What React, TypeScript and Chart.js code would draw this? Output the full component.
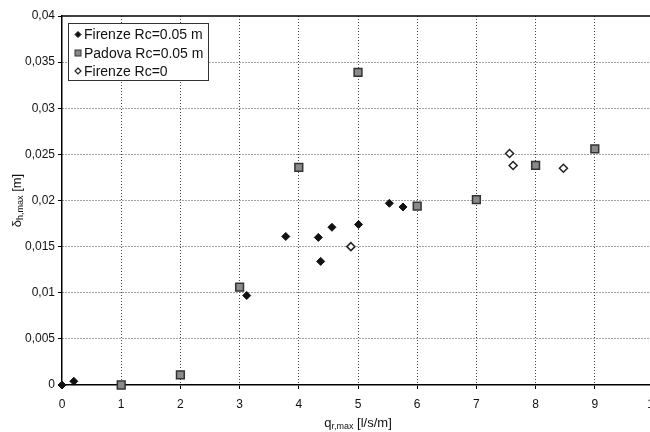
import React, { useEffect, useRef } from "react";
import { Chart, registerables } from "chart.js";

Chart.register(...registerables);

const firenzeX = [0, 0.2, 3.12, 3.78, 4.33, 4.37, 4.56, 5.01, 5.53, 5.76];
const firenzeY = [0, 0.0004, 0.0097, 0.0161, 0.016, 0.0134, 0.0171, 0.0174, 0.0197, 0.0193];
const padovaX = [1, 2, 3, 4, 5, 6, 7, 8, 9];
const padovaY = [0, 0.0011, 0.0106, 0.0236, 0.0339, 0.0194, 0.0201, 0.0238, 0.0256];
const firenze0X = [4.88, 7.56, 7.62, 8.47];
const firenze0Y = [0.015, 0.0251, 0.0238, 0.0235];
const seriesNames = ["Firenze Rc=0.05 m", "Padova Rc=0.05 m", "Firenze Rc=0"];

const FONT = "'Liberation Sans', Arial, sans-serif";

function pts(xs: number[], ys: number[]) {
  return xs.map((x, i) => ({ x, y: ys[i] }));
}

function drawDiamond(ctx: CanvasRenderingContext2D, x: number, y: number, r: number, fill: string, stroke: string, lw: number) {
  ctx.beginPath();
  ctx.moveTo(x, y - r);
  ctx.lineTo(x + r, y);
  ctx.lineTo(x, y + r);
  ctx.lineTo(x - r, y);
  ctx.closePath();
  ctx.fillStyle = fill;
  ctx.fill();
  ctx.lineWidth = lw;
  ctx.strokeStyle = stroke;
  ctx.stroke();
}

const decorPlugin = {
  id: "decor",
  afterDraw(chart: any) {
    const ctx: CanvasRenderingContext2D = chart.ctx;
    const a = chart.chartArea;
    ctx.save();
    // top border
    ctx.strokeStyle = "#000";
    ctx.lineWidth = 1.5;
    ctx.beginPath();
    ctx.moveTo(a.left, a.top);
    ctx.lineTo(a.right, a.top);
    ctx.stroke();

    // x title with subscript
    ctx.fillStyle = "#111";
    ctx.textBaseline = "alphabetic";
    const big = `13px ${FONT}`;
    const small = `9px ${FONT}`;
    const xParts: [string, string, number][] = [["q", big, 0], ["r,max", small, 2], [" [l/s/m]", big, 0]];
    let total = 0;
    for (const [t, f] of xParts) { ctx.font = f; total += ctx.measureText(t).width; }
    let cx = (a.left + a.right) / 2 - total / 2;
    const by = 427;
    for (const [t, f, dy] of xParts) {
      ctx.font = f;
      ctx.fillText(t, cx, by + dy);
      cx += ctx.measureText(t).width;
    }

    // y title
    ctx.save();
    ctx.translate(21, (a.top + a.bottom) / 2);
    ctx.rotate(-Math.PI / 2);
    const yParts: [string, string, number][] = [["δ", big, 0], ["h,max", small, 2], [" [m]", big, 0]];
    total = 0;
    for (const [t, f] of yParts) { ctx.font = f; total += ctx.measureText(t).width; }
    cx = -total / 2;
    for (const [t, f, dy] of yParts) {
      ctx.font = f;
      ctx.fillText(t, cx, dy);
      cx += ctx.measureText(t).width;
    }
    ctx.restore();

    // legend
    const lx = 68, ly = 23, lw = 140, lh = 57;
    ctx.fillStyle = "#fff";
    ctx.fillRect(lx, ly, lw, lh);
    ctx.strokeStyle = "#333";
    ctx.lineWidth = 1;
    ctx.strokeRect(lx + 0.5, ly + 0.5, lw, lh);
    const rows = [34.5, 53, 71];
    ctx.font = `14px ${FONT}`;
    ctx.textBaseline = "middle";
    for (let i = 0; i < 3; i++) {
      const my = rows[i];
      const mx = 78;
      if (i === 0) drawDiamond(ctx, mx, my, 3, "#111", "#111", 1);
      else if (i === 1) {
        ctx.fillStyle = "#888";
        ctx.fillRect(mx - 3, my - 3, 6, 6);
        ctx.strokeStyle = "#333";
        ctx.strokeRect(mx - 3, my - 3, 6, 6);
      } else drawDiamond(ctx, mx, my, 3, "#fff", "#222", 1.2);
      ctx.fillStyle = "#111";
      ctx.fillText(seriesNames[i], 84, my + 1);
    }
    ctx.restore();
  },
};

export default function App() {
  const ref = useRef<HTMLCanvasElement | null>(null);
  useEffect(() => {
    if (!ref.current) return;
    const chart = new Chart(ref.current, {
      type: "scatter",
      data: {
        datasets: [
          {
            label: seriesNames[0],
            data: pts(firenzeX, firenzeY),
            pointStyle: "rectRot",
            pointRadius: 4,
            backgroundColor: "#111",
            borderColor: "#111",
            borderWidth: 1,
            clip: false as any,
          },
          {
            label: seriesNames[1],
            data: pts(padovaX, padovaY),
            pointStyle: "rect",
            pointRadius: 5.5,
            backgroundColor: "#8a8a8a",
            borderColor: "#333",
            borderWidth: 1.5,
            clip: false as any,
          },
          {
            label: seriesNames[2],
            data: pts(firenze0X, firenze0Y),
            pointStyle: "rectRot",
            pointRadius: 4,
            backgroundColor: "#fff",
            borderColor: "#222",
            borderWidth: 1.5,
            clip: false as any,
          },
        ],
      },
      options: {
        animation: false,
        responsive: false,
        devicePixelRatio: 1,
        layout: { padding: { top: 16, right: 16, left: 0, bottom: 0 } },
        plugins: { legend: { display: false }, tooltip: { enabled: false } },
        scales: {
          x: {
            type: "linear",
            min: 0,
            max: 10,
            ticks: { stepSize: 1, padding: 8, color: "#111", font: { family: FONT, size: 12 } },
            grid: {
              color: (c: any) => (c.tick && (c.tick.value === 0 || c.tick.value === 10) ? "rgba(0,0,0,0)" : "#444"),
              lineWidth: 1,
              tickLength: 4,
              tickColor: "#000",
              tickWidth: 1,
            },
            border: { display: true, color: "#000", width: 1.5, dash: [1, 2] },
            afterFit: (s: any) => { s.height = 47; },
          },
          y: {
            type: "linear",
            min: 0,
            max: 0.04,
            ticks: {
              stepSize: 0.005,
              padding: 3,
              color: "#111",
              font: { family: FONT, size: 12 },
              callback: (v: any) => String(Number(Number(v).toFixed(3))).replace(".", ","),
            },
            grid: {
              color: (c: any) => (c.tick && (c.tick.value === 0 || Math.abs(c.tick.value - 0.04) < 1e-9) ? "rgba(0,0,0,0)" : "#444"),
              lineWidth: 1,
              tickLength: 4,
              tickColor: "#000",
              tickWidth: 1,
            },
            border: { display: true, color: "#000", width: 1.5, dash: [1, 2] },
            afterFit: (s: any) => { s.width = 62; },
          },
        },
      },
      plugins: [decorPlugin],
    } as any);
    return () => chart.destroy();
  }, []);
  return (
    <div style={{ position: "absolute", left: 0, top: 0, width: 650, height: 432, overflow: "hidden", background: "#fff" }}>
      <canvas ref={ref} width={670} height={432} style={{ display: "block", width: 670, height: 432 }} />
    </div>
  );
}
